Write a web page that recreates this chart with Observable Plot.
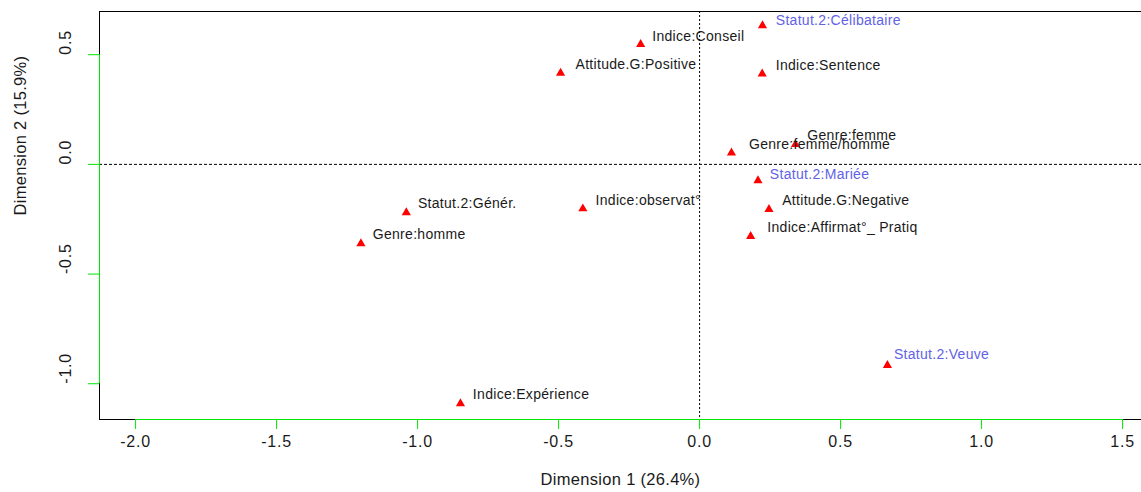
<!DOCTYPE html>
<html>
<head>
<meta charset="utf-8">
<script src="https://cdn.jsdelivr.net/npm/d3@7"></script>
<script src="https://cdn.jsdelivr.net/npm/@observablehq/plot@0.6"></script>
<style>
  html, body { margin: 0; padding: 0; background: #fff; }
  svg text { letter-spacing: 0.3px; }
  svg g.ticklab text { letter-spacing: 0.8px; }
</style>
</head>
<body>
<div id="chart"></div>
<script>
// Category labels (MCA modalities)
const names = [
  "Statut.2:Célibataire", "Indice:Conseil", "Attitude.G:Positive", "Indice:Sentence",
  "Genre:femme", "Genre:femme/homme", "Statut.2:Mariée", "Attitude.G:Negative",
  "Indice:Affirmat°_ Pratiq", "Indice:observat°", "Statut.2:Génér.", "Genre:homme",
  "Indice:Expérience", "Statut.2:Veuve"
];
// Coordinates on Dimension 1 and Dimension 2
const dim1 = [0.223, -0.209, -0.493, 0.222, 0.340, 0.113, 0.207, 0.246, 0.181, -0.414, -1.040, -1.201, -0.848, 0.666];
const dim2 = [0.633, 0.547, 0.416, 0.413, 0.091, 0.053, -0.074, -0.205, -0.328, -0.202, -0.220, -0.361, -1.090, -0.916];
// Label anchor positions (data units, as placed by the plotting routine)
const labelDim1 = [0.270, -0.168, -0.440, 0.270, 0.382, 0.175, 0.249, 0.293, 0.240, -0.369, -0.999, -1.159, -0.804, 0.689];
const labelDim2 = [0.656, 0.585, 0.454, 0.451, 0.132, 0.091, -0.044, -0.164, -0.286, -0.164, -0.179, -0.319, -1.048, -0.866];
// Labels drawn in blue
const highlighted = [true, false, false, false, false, false, true, false, false, false, false, false, false, true];

const xTicks = [-2.0, -1.5, -1.0, -0.5, 0.0, 0.5, 1.0, 1.5];
const yTicks = [-1.0, -0.5, 0.0, 0.5];
const xLabel = "Dimension 1 (26.4%)";
const yLabel = "Dimension 2 (15.9%)";

const xDomain = [-2.128, 1.567];
const yDomain = [-1.163, 0.697];

const data = names.map((n, i) => ({
  name: n, x: dim1[i], y: dim2[i], lx: labelDim1[i], ly: labelDim2[i], hi: highlighted[i]
}));

const GREEN = "#00e600";
const TXT = "#1a1a1a";
const BLUE = "#6262e6";
const fmt = d => d.toFixed(1);

const chart = Plot.plot({
  width: 1141,
  height: 492,
  marginLeft: 99,
  marginRight: 0,
  marginTop: 11,
  marginBottom: 73,
  style: { fontFamily: "'Liberation Sans', Arial, sans-serif", background: "#fff", overflow: "visible" },
  x: { domain: xDomain, axis: null },
  y: { domain: yDomain, axis: null },
  marks: [
    // reference lines at origin
    Plot.ruleX([0], { stroke: "#000", strokeWidth: 1, strokeDasharray: "2,2" }),
    Plot.ruleY([0], { stroke: "#000", strokeWidth: 1, strokeDasharray: "3,2" }),
    // box (black)
    Plot.ruleY([yDomain[1]], { stroke: "#000", strokeWidth: 1 }),
    Plot.ruleY([yDomain[0]], { stroke: "#000", strokeWidth: 1 }),
    Plot.ruleX([xDomain[0]], { stroke: "#000", strokeWidth: 1 }),
    // green axis lines between first and last tick
    Plot.ruleY([yDomain[0]], { x1: xTicks[0], x2: xTicks[xTicks.length - 1], stroke: GREEN, strokeWidth: 1 }),
    Plot.ruleX([xDomain[0]], { y1: yTicks[0], y2: yTicks[yTicks.length - 1], stroke: GREEN, strokeWidth: 1 }),
    // ticks
    Plot.axisX({ ticks: xTicks, tickSize: 10, stroke: GREEN, strokeWidth: 1, tickFormat: () => "", label: null }),
    Plot.axisY({ ticks: yTicks, tickSize: 11, stroke: GREEN, strokeWidth: 1, tickFormat: () => "", label: null }),
    // tick labels
    Plot.text(xTicks, { x: d => d, text: fmt, frameAnchor: "bottom", dy: 27, fontSize: 16, fill: TXT, className: "ticklab" }),
    Plot.text(yTicks, { y: d => d, text: fmt, frameAnchor: "left", dx: -34, rotate: -90, fontSize: 16, fill: TXT, className: "ticklab" }),
    // axis titles
    Plot.text([xLabel], { frameAnchor: "bottom", dy: 65, fontSize: 16.5, fill: TXT }),
    Plot.text([yLabel], { frameAnchor: "left", dx: -79, rotate: -90, fontSize: 16.5, fill: TXT }),
    // points
    Plot.dot(data, { x: "x", y: "y", symbol: "triangle", r: 3.4, fill: "#ff0000", stroke: null }),
    // labels
    Plot.text(data.filter(d => !d.hi), { x: "lx", y: "ly", text: "name", textAnchor: "start", fontSize: 14, fill: TXT }),
    Plot.text(data.filter(d => d.hi), { x: "lx", y: "ly", text: "name", textAnchor: "start", fontSize: 14, fill: BLUE })
  ]
});
document.getElementById("chart").appendChild(chart);
</script>
</body>
</html>
